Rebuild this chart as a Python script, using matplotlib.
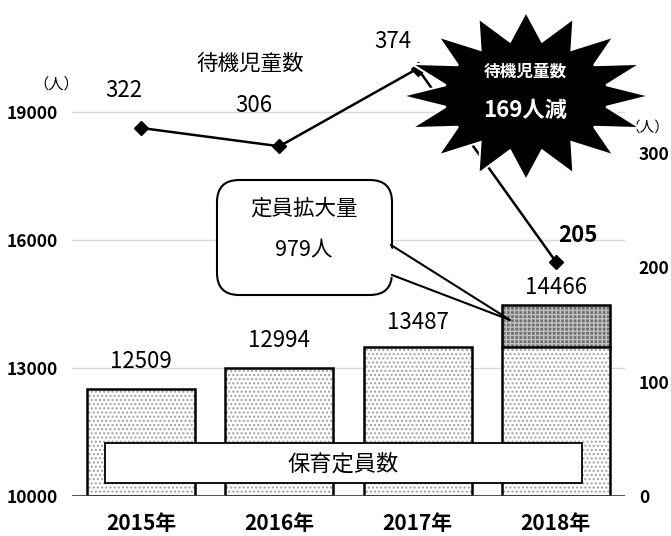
import numpy as np
import matplotlib
matplotlib.use('Agg')
import matplotlib.pyplot as plt
from matplotlib.patches import Polygon, FancyBboxPatch, Rectangle
from matplotlib.lines import Line2D

plt.rcParams['font.family'] = ['Noto Sans CJK JP', 'DejaVu Sans']

years = ['2015年', '2016年', '2017年', '2018年']
capacity = [12509, 12994, 13487, 14466]
increase = [0, 0, 0, 979]
waiting = [322, 306, 374, 205]

W, H = 671, 536
fig = plt.figure(figsize=(W / 100, H / 100), dpi=100)


def fx(x):
    return x / W


def fy(y):
    return 1 - y / H


# plot area in pixels: x 72..625, y 69..496
ax = fig.add_axes([fx(72), fy(496), (625 - 72) / W, (496 - 69) / H])
x = np.arange(len(years))
base = [c - i for c, i in zip(capacity, increase)]

ax.set_xlim(-0.5, 3.5)
ax.set_ylim(10000, 20000)
for g in [13000, 16000, 19000]:
    ax.axhline(g, color='#d9d9d9', lw=1, zorder=0)

# dotted fill, then black outline
ax.bar(x, [b - 10000 for b in base], bottom=10000, width=0.78, color='white',
       edgecolor='#a0a0a0', hatch='....', lw=0, zorder=2)
ax.bar(x, increase, bottom=base, width=0.78, color='#707070',
       edgecolor='#c0c0c0', hatch='++++', lw=0, zorder=2)
ax.bar(x, [c - 10000 for c in capacity], bottom=10000, width=0.78, fill=False,
       edgecolor='black', lw=1.8, zorder=3)
ax.plot([x[-1] - 0.39, x[-1] + 0.39], [base[-1]] * 2, color='black', lw=1.8, zorder=3)

bar_lab_off = [27, 28, 25, 18]
for xi, c, off in zip(x, capacity, bar_lab_off):
    ax.annotate(str(c), (xi, c), xytext=(0, off), textcoords='offset pixels',
                ha='center', va='center', fontsize=16, zorder=5)

ax.axhline(10000, color='#404040', lw=2, zorder=4)
for s in ['top', 'left', 'right', 'bottom']:
    ax.spines[s].set_visible(False)
ax.set_yticks([10000, 13000, 16000, 19000])
ax.tick_params(axis='y', length=0, pad=10, labelsize=12.5)
for t in ax.get_yticklabels():
    t.set_fontweight('bold')
ax.set_xticks(x)
ax.set_xticklabels(years, fontsize=15, fontweight='bold')
ax.tick_params(axis='x', length=0, pad=12)

# legend box
ax.add_patch(Rectangle((fx(105), fy(483)), fx(582) - fx(105), fy(443) - fy(483),
                       transform=fig.transFigure, facecolor='white',
                       edgecolor='black', lw=1.3, zorder=6))
fig.text(fx(343), fy(464), '保育定員数', ha='center', va='center', fontsize=16, zorder=7)

ax2 = ax.twinx()
ax2.set_ylim(0, 373.6)
ax2.plot(x, waiting, color='black', lw=1.8, marker='D', markersize=7, clip_on=False, zorder=5)
for s in ['top', 'left', 'right', 'bottom']:
    ax2.spines[s].set_visible(False)
ax2.set_yticks([0, 100, 200, 300])
ax2.tick_params(axis='y', length=0, pad=10, labelsize=12.5)
for t in ax2.get_yticklabels():
    t.set_fontweight('bold')

label_off = [(-17, 37), (-26, 41), (-25, 27), (22, 26)]
for xi, v, (dx, dy) in zip(x, waiting, label_off):
    ax2.annotate(str(v), (xi, v), xytext=(dx, dy), textcoords='offset pixels',
                 ha='center', va='center', fontsize=16,
                 fontweight='bold' if xi == 3 else 'normal')

fig.text(fx(250), fy(64), '待機児童数', ha='center', va='center', fontsize=15.5)
fig.text(fx(56), fy(84), '（人）', ha='center', va='center', fontsize=11)
fig.text(fx(648), fy(128), '（人）', ha='center', va='center', fontsize=10.5)

# star burst
n = 16
cx, cy, rx, ry = 526, 96, 124, 84
pts = []
for k in range(2 * n):
    a = np.pi / 2 + k * np.pi / n
    r = 1.0 if k % 2 == 0 else 0.66
    pts.append((fx(cx + rx * r * np.cos(a)), fy(cy - ry * r * np.sin(a))))
fig.patches.append(Polygon(pts, closed=True, transform=fig.transFigure,
                           facecolor='black', edgecolor='white', lw=1.5, zorder=10))
fig.text(fx(525), fy(72), '待機児童数', ha='center', va='center', fontsize=12,
         fontweight='bold', color='white', zorder=11)
fig.text(fx(525), fy(110), '169人減', ha='center', va='center', fontsize=16,
         fontweight='bold', color='white', zorder=11)

# callout: rounded box + tail
fig.patches.append(FancyBboxPatch((fx(217), fy(295)), fx(392) - fx(217), fy(180) - fy(295),
                                  boxstyle='round,pad=0,rounding_size=0.033',
                                  transform=fig.transFigure, facecolor='white',
                                  edgecolor='black', lw=1.5, zorder=10,
                                  mutation_aspect=W / H))
tail = [(fx(386), fy(245)), (fx(510), fy(320)), (fx(386), fy(275))]
fig.patches.append(Polygon(tail, closed=True, transform=fig.transFigure,
                           facecolor='white', edgecolor='none', zorder=11))
fig.lines.append(Line2D([fx(391), fx(510), fx(392)], [fy(245), fy(320), fy(275)],
                        transform=fig.transFigure, color='black', lw=1.5, zorder=12))
fig.text(fx(304), fy(209), '定員拡大量', ha='center', va='center', fontsize=15.5, zorder=12)
fig.text(fx(304), fy(249), '979人', ha='center', va='center', fontsize=15.5, zorder=12)

fig.savefig('out.png', dpi=100)
